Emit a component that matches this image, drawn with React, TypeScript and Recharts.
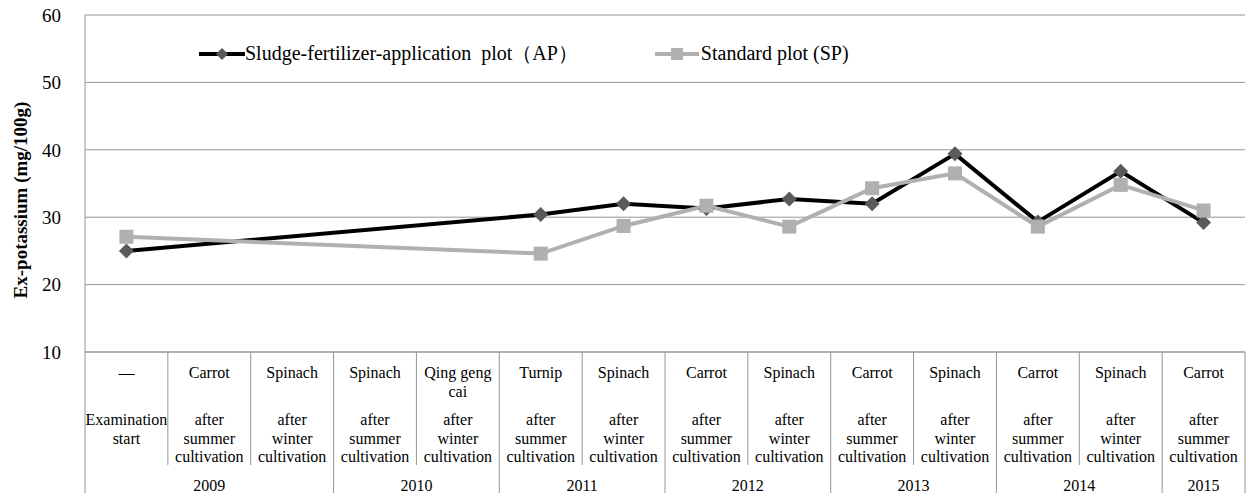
import React from 'react';
import { CartesianGrid, Legend, Line, LineChart, XAxis, YAxis } from 'recharts';

const crops = ['—', 'Carrot', 'Spinach', 'Spinach', 'Qing geng\ncai', 'Turnip', 'Spinach', 'Carrot', 'Spinach', 'Carrot', 'Spinach', 'Carrot', 'Spinach', 'Carrot'];
const timings = [
  'Examination\nstart',
  'after\nsummer\ncultivation', 'after\nwinter\ncultivation',
  'after\nsummer\ncultivation', 'after\nwinter\ncultivation',
  'after\nsummer\ncultivation', 'after\nwinter\ncultivation',
  'after\nsummer\ncultivation', 'after\nwinter\ncultivation',
  'after\nsummer\ncultivation', 'after\nwinter\ncultivation',
  'after\nsummer\ncultivation', 'after\nwinter\ncultivation',
  'after\nsummer\ncultivation',
];
const years = ['2009', '2009', '2009', '2010', '2010', '2011', '2011', '2012', '2012', '2013', '2013', '2014', '2014', '2015'];
const apValues = [25.0, null, null, null, null, 30.4, 32.0, 31.3, 32.7, 32.0, 39.4, 29.3, 36.8, 29.2];
const spValues = [27.1, null, null, null, null, 24.6, 28.7, 31.7, 28.6, 34.3, 36.5, 28.6, 34.8, 31.0];
const yTicks = [10, 20, 30, 40, 50, 60];
const apName = 'Sludge-fertilizer-application  plot（AP）';
const spName = 'Standard plot (SP)';
const yTitle = 'Ex-potassium (mg/100g)';

const data = crops.map((c, i) => ({ idx: i, ap: apValues[i], sp: spValues[i] }));

const W = 1257;
const H = 493;
const Y_W = 85;
const X_H = 141;
const RIGHT = 12;
const BAND = (W - Y_W - RIGHT) / crops.length;
const FONT = "'Liberation Serif', Tinos, 'DejaVu Serif', serif";
const GRID = '#969696';

const CategoryTick = (props: any) => {
  const { x, y, payload } = props;
  const i = payload.value;
  const left = x - BAND / 2;
  const newYear = i === 0 || years[i] !== years[i - 1];
  let span = 1;
  while (i + span < years.length && years[i + span] === years[i]) span++;
  const cropLines = crops[i].split('\n');
  const timeLines = timings[i].split('\n');
  return (
    <g>
      <line x1={left} y1={y} x2={left} y2={newYear ? H : y + 113} stroke={GRID} />
      {i === crops.length - 1 && <line x1={left + BAND} y1={y} x2={left + BAND} y2={H} stroke={GRID} />}
      <text x={x} y={y + 26} textAnchor="middle" style={{ fontFamily: FONT, fontSize: 16 }} fill="#000">
        {cropLines.map((t, k) => <tspan key={k} x={x} dy={k === 0 ? 0 : 18.5}>{t}</tspan>)}
      </text>
      <text x={x} y={y + 73} textAnchor="middle" style={{ fontFamily: FONT, fontSize: 16 }} fill="#000">
        {timeLines.map((t, k) => <tspan key={k} x={x} dy={k === 0 ? 0 : 18.5}>{t}</tspan>)}
      </text>
      {newYear && (
        <text x={left + (span * BAND) / 2} y={y + 138.5} textAnchor="middle" style={{ fontFamily: FONT, fontSize: 16 }} fill="#000">
          {years[i]}
        </text>
      )}
    </g>
  );
};

const Diamond = (props: any) => {
  const { cx, cy, index } = props;
  if (cx == null || cy == null) return <g key={`ap${index}`} />;
  const r = 7.5;
  return (
    <polygon
      key={`ap${index}`}
      points={`${cx},${cy - r} ${cx + r},${cy} ${cx},${cy + r} ${cx - r},${cy}`}
      fill="#5a5a5a"
    />
  );
};

const Square = (props: any) => {
  const { cx, cy, index } = props;
  if (cx == null || cy == null) return <g key={`sp${index}`} />;
  const s = 14;
  return <rect key={`sp${index}`} x={cx - s / 2} y={cy - s / 2} width={s} height={s} fill="#b0b0b0" />;
};

const LegendContent = () => (
  <div style={{ display: 'flex', alignItems: 'center', fontFamily: FONT, fontSize: 20, color: '#000', whiteSpace: 'pre' }}>
    <svg width={46} height={16}>
      <line x1={0} y1={8} x2={46} y2={8} stroke="#000" strokeWidth={4} />
      <polygon points="23,2 29,8 23,14 17,8" fill="#5a5a5a" />
    </svg>
    <span>{apName}</span>
    <svg width={46} height={16} style={{ marginLeft: 77 }}>
      <line x1={0} y1={8} x2={44} y2={8} stroke="#b0b0b0" strokeWidth={4} />
      <rect x={16} y={2} width={12} height={12} fill="#b0b0b0" />
    </svg>
    <span>{spName}</span>
  </div>
);

const YTitle = () => (
  <text
    transform="translate(20,200) rotate(-90)"
    textAnchor="middle"
    dominantBaseline="central"
    style={{ fontFamily: FONT, fontSize: 19, fontWeight: 'bold' }}
    fill="#000"
  >
    {yTitle}
  </text>
);

export default function App() {
  return (
    <div style={{ position: 'absolute', left: 0, top: 0, background: '#fff' }}>
      <LineChart width={W} height={H} data={data} margin={{ top: 15, right: RIGHT, left: 0, bottom: 0 }}>
        <CartesianGrid vertical={false} stroke={GRID} />
        <XAxis
          dataKey="idx"
          type="category"
          scale="band"
          interval={0}
          height={X_H}
          tickLine={false}
          tickSize={0}
          tickMargin={0}
          axisLine={{ stroke: GRID }}
          tick={(p: any) => <CategoryTick {...p} />}
        />
        <YAxis
          domain={[10, 60]}
          ticks={yTicks}
          width={Y_W}
          tickLine={false}
          tickSize={0}
          tickMargin={24}
          axisLine={{ stroke: GRID }}
          tick={{ style: { fontFamily: FONT, fontSize: 19 }, fill: '#000' }}
          label={{ content: () => <YTitle /> }}
        />
        <Legend
          layout="horizontal"
          verticalAlign="middle"
          align="center"
          wrapperStyle={{ top: 40, left: 199, width: 'auto' }}
          content={() => <LegendContent />}
        />
        <Line dataKey="ap" name={apName} stroke="#000" strokeWidth={4} connectNulls dot={Diamond} activeDot={false} isAnimationActive={false} />
        <Line dataKey="sp" name={spName} stroke="#b0b0b0" strokeWidth={4} connectNulls dot={Square} activeDot={false} isAnimationActive={false} />
      </LineChart>
    </div>
  );
}
